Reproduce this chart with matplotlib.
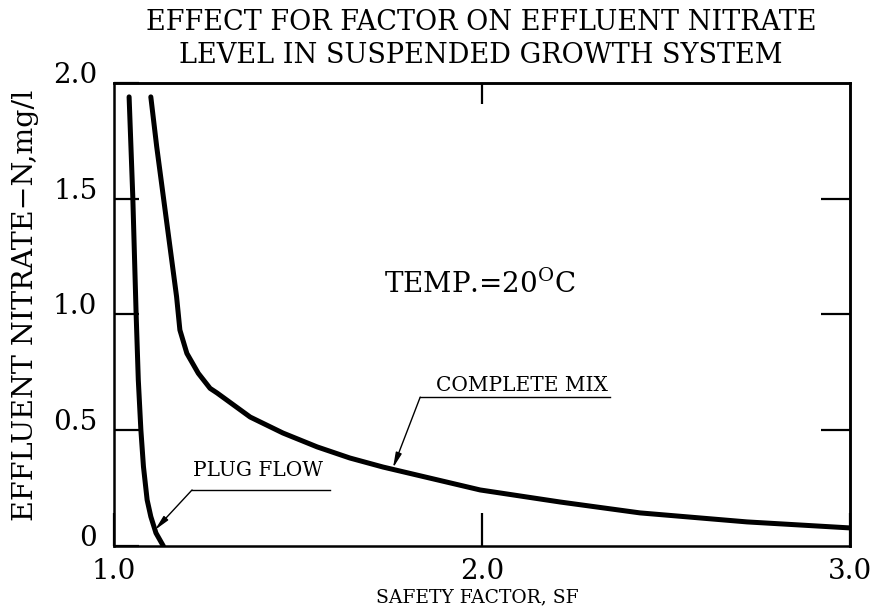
import matplotlib
matplotlib.use("Agg")
import matplotlib.pyplot as plt

# safety factor vs effluent nitrate
plug_sf = [1.041, 1.051, 1.060, 1.066, 1.073, 1.080, 1.090, 1.100, 1.114, 1.134]
plug_n = [1.94, 1.509, 1.006, 0.717, 0.501, 0.343, 0.199, 0.127, 0.056, 0.0]

mix_sf = [1.100, 1.116, 1.134, 1.152, 1.170, 1.179, 1.198, 1.229, 1.261, 1.280,
          1.370, 1.459, 1.552, 1.641, 1.731, 1.995, 2.212, 2.429, 2.720, 3.0]
mix_n = [1.94, 1.725, 1.509, 1.293, 1.077, 0.933, 0.832, 0.746, 0.681, 0.661,
         0.557, 0.488, 0.428, 0.380, 0.341, 0.242, 0.190, 0.143, 0.104, 0.078]

x_ticks = [1.0, 2.0, 3.0]
x_labels = ["1.0", "2.0", "3.0"]
y_ticks = [0, 0.5, 1.0, 1.5, 2.0]
y_labels = ["0", "0.5", "1.0", "1.5", "2.0"]

plt.rcParams["font.family"] = "DejaVu Serif"
plt.rcParams["mathtext.fontset"] = "dejavuserif"

fig = plt.figure(figsize=(8.73, 6.08), dpi=100)
ax = fig.add_axes([0.1306, 0.1020, 0.8431, 0.7615])

ax.plot(plug_sf, plug_n, color="black", lw=3.6, solid_capstyle="round", solid_joinstyle="round")
ax.plot(mix_sf, mix_n, color="black", lw=3.6, solid_capstyle="round", solid_joinstyle="round")

ax.set_xlim(1.0, 3.0)
ax.set_ylim(0, 2.0)
for s in ax.spines.values():
    s.set_linewidth(1.8)

ax.set_xticks(x_ticks)
ax.set_xticklabels(x_labels, fontsize=20)
ax.set_yticks(y_ticks)
ax.set_yticklabels(y_labels, fontsize=20)
ax.tick_params(axis="x", direction="in", length=24, width=1.6, pad=9)
ax.tick_params(axis="y", direction="in", length=18, width=1.6, pad=12)
# y values sit just above their ticks
for lab in ax.get_yticklabels():
    lab.set_va("baseline")

# shorter ticks on the top and right edges
top = ax.secondary_xaxis("top")
top.set_xticks([2.0])
top.set_xticklabels([])
top.tick_params(direction="in", length=15, width=1.6)
top.spines["top"].set_linewidth(1.8)
right = ax.secondary_yaxis("right")
right.set_yticks([0.5, 1.0, 1.5])
right.set_yticklabels([])
right.tick_params(direction="in", length=21, width=1.6)
right.spines["right"].set_linewidth(1.8)

fig.text(0.547, 0.018, "SAFETY FACTOR, SF", ha="center", va="center", fontsize=13.5)
fig.text(0.029, 0.498, "EFFLUENT NITRATE\u2212N,mg/l", ha="center", va="center",
         rotation=90, fontsize=20.5)
fig.text(0.551, 0.963, "EFFECT FOR FACTOR ON EFFLUENT NITRATE", ha="center", va="center", fontsize=19.5)
fig.text(0.551, 0.909, "LEVEL IN SUSPENDED GROWTH SYSTEM", ha="center", va="center", fontsize=19.5)

ax.text(1.995, 1.13, r"TEMP.=20$^\mathrm{O}$C", ha="center", va="center", fontsize=20)

arrow = dict(arrowstyle="-|>,head_length=0.9,head_width=0.18", color="black", lw=1.0,
             shrinkA=0, shrinkB=0)

# complete mix label with underline and leader
ax.text(2.108, 0.695, "COMPLETE MIX", ha="center", va="center", fontsize=14.5)
ax.plot([1.832, 2.348], [0.643, 0.643], color="black", lw=1.0)
ax.annotate("", xy=(1.758, 0.337), xytext=(1.832, 0.643), arrowprops=arrow)

# plug flow label with underline and leader
ax.text(1.391, 0.328, "PLUG FLOW", ha="center", va="center", fontsize=14.5)
ax.plot([1.212, 1.587], [0.242, 0.242], color="black", lw=1.0)
ax.annotate("", xy=(1.111, 0.069), xytext=(1.212, 0.242), arrowprops=arrow)

fig.savefig("out.png", dpi=100)
